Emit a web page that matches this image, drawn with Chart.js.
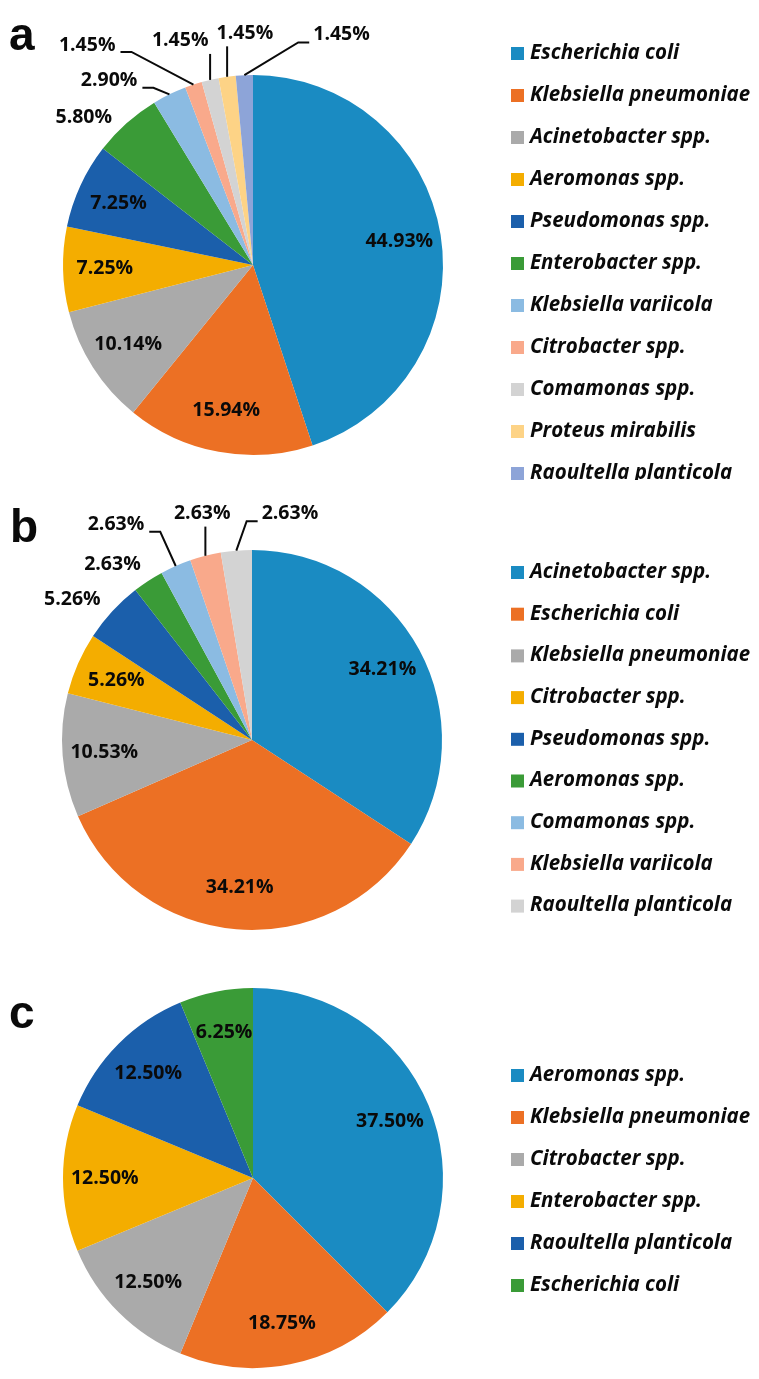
<!DOCTYPE html>
<html>
<head>
<meta charset="utf-8">
<script src="https://cdn.jsdelivr.net/npm/chart.js@4.4.0/dist/chart.umd.min.js"></script>
<style>
  body { margin: 0; background: #fff; width: 759px; height: 1379px; position: relative; overflow: hidden; }
  .panel { position: absolute; left: 0; width: 759px; }
</style>
</head>
<body>
<div class="panel" style="top:0"><canvas id="chartA" width="759" height="480"></canvas></div>
<div class="panel" style="top:480px"><canvas id="chartB" width="759" height="480"></canvas></div>
<div class="panel" style="top:960px"><canvas id="chartC" width="759" height="419"></canvas></div>
<script>
// panel a
const speciesA = ['Escherichia coli', 'Klebsiella pneumoniae', 'Acinetobacter spp.', 'Aeromonas spp.',
  'Pseudomonas spp.', 'Enterobacter spp.', 'Klebsiella variicola', 'Citrobacter spp.',
  'Comamonas spp.', 'Proteus mirabilis', 'Raoultella planticola'];
const percentA = [44.93, 15.94, 10.14, 7.25, 7.25, 5.80, 2.90, 1.45, 1.45, 1.45, 1.45];

// panel b
const speciesB = ['Acinetobacter spp.', 'Escherichia coli', 'Klebsiella pneumoniae', 'Citrobacter spp.',
  'Pseudomonas spp.', 'Aeromonas spp.', 'Comamonas spp.', 'Klebsiella variicola', 'Raoultella planticola'];
const percentB = [34.21, 34.21, 10.53, 5.26, 5.26, 2.63, 2.63, 2.63, 2.63];

// panel c
const speciesC = ['Aeromonas spp.', 'Klebsiella pneumoniae', 'Citrobacter spp.', 'Enterobacter spp.',
  'Raoultella planticola', 'Escherichia coli'];
const percentC = [37.50, 18.75, 12.50, 12.50, 12.50, 6.25];

// office-like palette, used in order
const palette = ['#1A8BC2', '#EC7024', '#AAAAAA', '#F4AD00', '#1B5FAB', '#3A9B37',
  '#8BBBE2', '#F9A98B', '#D3D3D3', '#FDD386', '#8DA4D8'];

const labelFont = 'bold 19.5px "Open Sans"';
const legendFont = 'italic bold 20.5px "Open Sans"';
const ink = '#0a0a0a';

// percentage labels; outside ones get [angle from 12 o'clock, radius factor, leader line]
const pieLabels = {
  id: 'pieLabels',
  afterDatasetsDraw(chart, args, opts) {
    const ctx = chart.ctx;
    const meta = chart.getDatasetMeta(0);
    const values = chart.data.datasets[0].data;
    const outside = opts.outside || {};
    ctx.save();
    ctx.font = labelFont;
    ctx.fillStyle = ink;
    ctx.strokeStyle = ink;
    ctx.lineWidth = 2;
    ctx.textAlign = 'center';
    ctx.textBaseline = 'middle';
    meta.data.forEach((arc, i) => {
      const p = arc.getProps(['x', 'y', 'startAngle', 'endAngle', 'outerRadius'], true);
      const mid = (p.startAngle + p.endAngle) / 2;
      const text = values[i].toFixed(2) + '%';
      const place = outside[i];
      if (!place) {
        const r = p.outerRadius * 0.78;
        ctx.fillText(text, p.x + Math.cos(mid) * r, p.y + Math.sin(mid) * r);
        return;
      }
      const a = (place[0] - 90) * Math.PI / 180;
      const lx = p.x + Math.cos(a) * p.outerRadius * place[1];
      const ly = p.y + Math.sin(a) * p.outerRadius * place[1];
      ctx.fillText(text, lx, ly);
      if (!place[2]) return;
      const w = ctx.measureText(text).width;
      const left = lx - w / 2, right = lx + w / 2;
      const ex = p.x + Math.cos(mid) * p.outerRadius;
      const ey = p.y + Math.sin(mid) * p.outerRadius;
      ctx.beginPath();
      if (ex > right + 6) {
        ctx.moveTo(right + 5, ly + 7);
        ctx.lineTo(right + 16, ly + 7);
      } else if (ex < left - 6) {
        ctx.moveTo(left - 4, ly + 8);
        ctx.lineTo(left - 15, ly + 8);
      } else {
        ctx.moveTo(ex, ly + 13);
      }
      ctx.lineTo(ex, ey);
      ctx.stroke();
    });
    ctx.restore();
  }
};

// legend column on the right and the panel letter
const sideLegend = {
  id: 'sideLegend',
  afterDraw(chart, args, opts) {
    const ctx = chart.ctx;
    const colors = chart.data.datasets[0].backgroundColor;
    ctx.save();
    ctx.font = 'bold 46px "Liberation Sans"';
    ctx.fillStyle = ink;
    ctx.textBaseline = 'alphabetic';
    ctx.fillText(opts.letter, opts.letterX, opts.letterY);
    ctx.font = legendFont;
    ctx.textBaseline = 'middle';
    chart.data.labels.forEach((name, i) => {
      const y = opts.top + i * opts.step;
      ctx.fillStyle = colors[i];
      ctx.fillRect(opts.left, y - 6, 13, 13);
      ctx.fillStyle = ink;
      ctx.fillText(name, opts.left + 19, y);
    });
    ctx.restore();
  }
};

function makePie(id, species, percent, padding, legendOpts, outside) {
  return new Chart(document.getElementById(id), {
    type: 'pie',
    data: {
      labels: species,
      datasets: [{
        data: percent,
        backgroundColor: palette.slice(0, percent.length),
        borderWidth: 0
      }]
    },
    options: {
      responsive: false,
      animation: false,
      layout: { padding: padding },
      plugins: {
        legend: { display: false },
        tooltip: { enabled: false },
        pieLabels: { outside: outside },
        sideLegend: legendOpts
      }
    },
    plugins: [pieLabels, sideLegend]
  });
}

const chartA = makePie('chartA', speciesA, percentA,
  { left: 63, right: 316, top: 75, bottom: 25 },
  { letter: 'a', letterX: 9, letterY: 50, left: 511, top: 53, step: 42 },
  { 5: [311, 1.18, false], 6: [322, 1.23, true], 7: [323, 1.45, true],
    8: [342, 1.24, true], 9: [358, 1.22, true], 10: [21, 1.30, true] });

const chartB = makePie('chartB', speciesB, percentB,
  { left: 62, right: 317, top: 70, bottom: 30 },
  { letter: 'b', letterX: 10, letterY: 62, left: 511, top: 92, step: 41.7 },
  { 4: [308, 1.20, false], 5: [321.5, 1.18, false], 6: [327.7, 1.34, true],
    7: [347.6, 1.22, true], 8: [9.5, 1.21, true] });

const chartC = makePie('chartC', speciesC, percentC,
  { left: 63, right: 316, top: 28, bottom: 11 },
  { letter: 'c', letterX: 9, letterY: 68, left: 511, top: 115, step: 42 },
  {});
</script>
</body>
</html>
